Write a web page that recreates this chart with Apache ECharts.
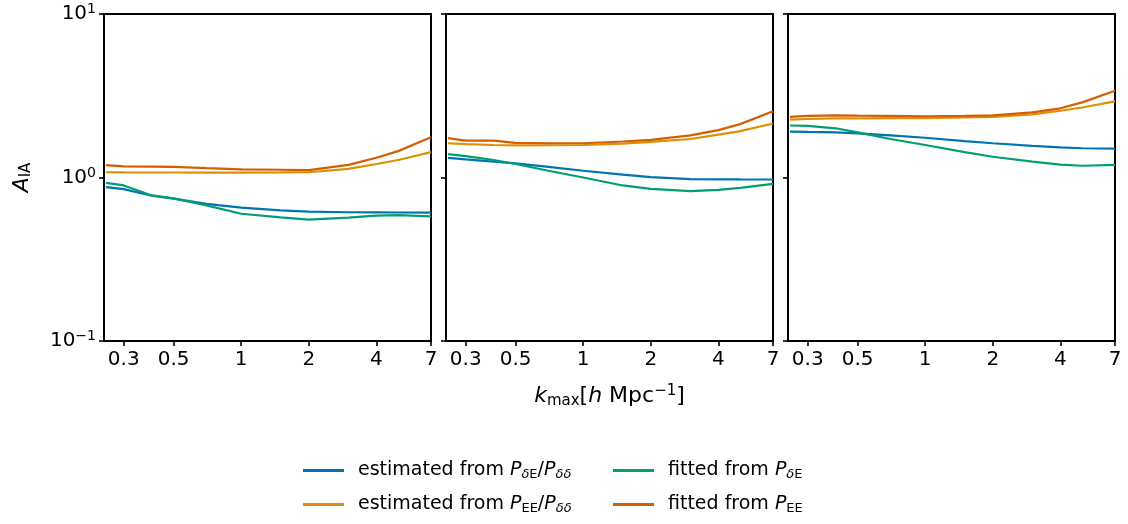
<!DOCTYPE html>
<html>
<head>
<meta charset="utf-8">
<script src="https://cdn.jsdelivr.net/npm/echarts@6/dist/echarts.min.js"></script>
<style>
  html, body { margin: 0; padding: 0; background: #fff; }
  #chart { width: 1128px; height: 524px; }
</style>
</head>
<body>
<div id="chart"></div>
<script>
// k_max values (h/Mpc) shared by all panels
const kValues = [0.25, 0.3, 0.4, 0.5, 0.7, 1, 1.5, 2, 3, 4, 5, 7]
const xTicks = [0.3, 0.5, 1, 2, 4, 7]
const yTicks = [0.1, 1, 10]

const seriesNames = [
  'estimated from PdE/Pdd',
  'estimated from PEE/Pdd',
  'fitted from PdE',
  'fitted from PEE'
]
const seriesColors = ['#0173b2', '#de8f05', '#029e73', '#d55e00']

// panel 1
const p1EstDE = [0.873, 0.849, 0.773, 0.742, 0.69, 0.654, 0.63, 0.618, 0.613, 0.612, 0.611, 0.609]
const p1EstEE = [1.077, 1.075, 1.073, 1.073, 1.072, 1.072, 1.074, 1.077, 1.13, 1.21, 1.28, 1.43]
const p1FitDE = [0.928, 0.894, 0.777, 0.745, 0.675, 0.60, 0.57, 0.552, 0.568, 0.584, 0.589, 0.578]
const p1FitEE = [1.19, 1.17, 1.167, 1.16, 1.14, 1.12, 1.115, 1.11, 1.195, 1.32, 1.45, 1.76]

// panel 2
const p2EstDE = [1.32, 1.29, 1.25, 1.22, 1.16, 1.10, 1.04, 1.005, 0.977, 0.975, 0.973, 0.972]
const p2EstEE = [1.62, 1.60, 1.58, 1.57, 1.575, 1.58, 1.61, 1.65, 1.72, 1.83, 1.92, 2.14]
const p2FitDE = [1.39, 1.35, 1.28, 1.21, 1.10, 1.0, 0.894, 0.853, 0.825, 0.841, 0.865, 0.915]
const p2FitEE = [1.74, 1.68, 1.68, 1.63, 1.62, 1.62, 1.66, 1.70, 1.81, 1.95, 2.12, 2.54]

// panel 3
const p3EstDE = [1.91, 1.90, 1.89, 1.86, 1.81, 1.75, 1.67, 1.62, 1.56, 1.53, 1.51, 1.50]
const p3EstEE = [2.26, 2.28, 2.30, 2.30, 2.31, 2.31, 2.33, 2.35, 2.43, 2.56, 2.68, 2.92]
const p3FitDE = [2.08, 2.07, 2.0, 1.89, 1.72, 1.58, 1.43, 1.34, 1.25, 1.20, 1.18, 1.195]
const p3FitEE = [2.35, 2.38, 2.40, 2.39, 2.38, 2.37, 2.38, 2.40, 2.50, 2.65, 2.88, 3.39]

const panels = [
  [p1EstDE, p1EstEE, p1FitDE, p1FitEE],
  [p2EstDE, p2EstEE, p2FitDE, p2FitEE],
  [p3EstDE, p3EstEE, p3FitDE, p3FitEE]
]

const FONT = 'DejaVu Sans'
const FS = 19
const TICK_FS = 20
const gridLefts = [104, 446, 788]
const gridWidth = 327

const richText = {
  n: { fontFamily: FONT, fontSize: FS, color: '#000' },
  t: { fontFamily: FONT, fontSize: TICK_FS, color: '#000' },
  i: { fontFamily: FONT, fontSize: FS, fontStyle: 'italic', color: '#000' },
  sub: { fontFamily: FONT, fontSize: 13, color: '#000', verticalAlign: 'bottom', padding: [8, 0, 0, 0] },
  subi: { fontFamily: FONT, fontSize: 13, fontStyle: 'italic', color: '#000', verticalAlign: 'bottom', padding: [8, 0, 0, 0] },
  sup: { fontFamily: FONT, fontSize: 14, color: '#000', verticalAlign: 'top', padding: [0, 0, 9, 0] }
}

// larger styles for the axis titles
const nameRich = {
  n: { fontFamily: FONT, fontSize: 22, color: '#000' },
  i: { fontFamily: FONT, fontSize: 22, fontStyle: 'italic', color: '#000' },
  sub: { fontFamily: FONT, fontSize: 15, color: '#000', verticalAlign: 'bottom', padding: [9, 0, 0, 0] },
  sup: { fontFamily: FONT, fontSize: 15, color: '#000', verticalAlign: 'top', padding: [0, 0, 10, 0] }
}

const legendLabels = {
  'estimated from PdE/Pdd': '{n|estimated from }{i|P}{subi|δ}{sub|E}{n|/}{i|P}{subi|δδ}',
  'estimated from PEE/Pdd': '{n|estimated from }{i|P}{sub|EE}{n|/}{i|P}{subi|δδ}',
  'fitted from PdE': '{n|fitted from }{i|P}{subi|δ}{sub|E}',
  'fitted from PEE': '{n|fitted from }{i|P}{sub|EE}'
}

const yLabel = v => {
  if (Math.abs(v - 10) < 1e-9) return '{t|10}{sup|1}'
  if (Math.abs(v - 1) < 1e-9) return '{t|10}{sup|0}'
  if (Math.abs(v - 0.1) < 1e-9) return '{t|10}{sup|−1}'
  return ''
}

const chart = echarts.init(document.getElementById('chart'))

const grids = gridLefts.map(left => ({
  left: left,
  top: 14,
  width: gridWidth,
  height: 327,
  show: true,
  borderColor: '#000',
  borderWidth: 2,
  backgroundColor: 'transparent'
}))

const xAxes = gridLefts.map((_, gi) => ({
  type: 'log',
  logBase: 10,
  gridIndex: gi,
  min: 0.245,
  max: 7,
  axisLine: { show: false },
  splitLine: { show: false },
  minorTick: { show: false },
  axisTick: { show: true, inside: false, length: 5, lineStyle: { color: '#000', width: 1.6 }, customValues: xTicks },
  axisLabel: {
    show: true,
    customValues: xTicks,
    margin: 9,
    fontFamily: FONT,
    fontSize: TICK_FS,
    color: '#000',
    formatter: v => String(+v.toPrecision(3))
  },
  name: gi === 1 ? '{i|k}{sub|max}{n|[}{i|h}{n| Mpc}{sup|−1}{n|]}' : '',
  nameLocation: 'middle',
  nameGap: 43,
  nameTextStyle: { rich: nameRich }
}))

const yAxes = gridLefts.map((_, gi) => ({
  type: 'log',
  logBase: 10,
  gridIndex: gi,
  min: 0.1,
  max: 10,
  axisLine: { show: false },
  splitLine: { show: false },
  minorTick: { show: false },
  axisTick: { show: true, inside: false, length: 5, lineStyle: { color: '#000', width: 1.6 } },
  axisLabel: {
    show: gi === 0,
    margin: 8,
    formatter: yLabel,
    rich: richText
  },
  name: gi === 0 ? '{i|A}{sub|IA}' : '',
  nameLocation: 'middle',
  nameRotate: 90,
  nameGap: 70,
  nameTextStyle: { rich: nameRich }
}))

const series = []
panels.forEach((panel, gi) => {
  panel.forEach((vals, si) => {
    series.push({
      name: seriesNames[si],
      type: 'line',
      xAxisIndex: gi,
      yAxisIndex: gi,
      symbol: 'none',
      smooth: false,
      lineStyle: { color: seriesColors[si], width: 2.2 },
      itemStyle: { color: seriesColors[si] },
      data: kValues.map((k, i) => [k, vals[i]])
    })
  })
})

const legendBase = {
  orient: 'vertical',
  top: 456,
  itemWidth: 41,
  itemHeight: 3,
  itemGap: 14,
  icon: 'rect',
  formatter: name => legendLabels[name],
  textStyle: { rich: richText, padding: [0, 0, 0, 9] },
  selectedMode: false
}

const option = {
  animation: false,
  backgroundColor: '#fff',
  grid: grids,
  xAxis: xAxes,
  yAxis: yAxes,
  legend: [
    Object.assign({}, legendBase, { left: 298, data: [seriesNames[0], seriesNames[1]] }),
    Object.assign({}, legendBase, { left: 608, data: [seriesNames[2], seriesNames[3]] })
  ],
  series: series
}

chart.setOption(option)
</script>
</body>
</html>
